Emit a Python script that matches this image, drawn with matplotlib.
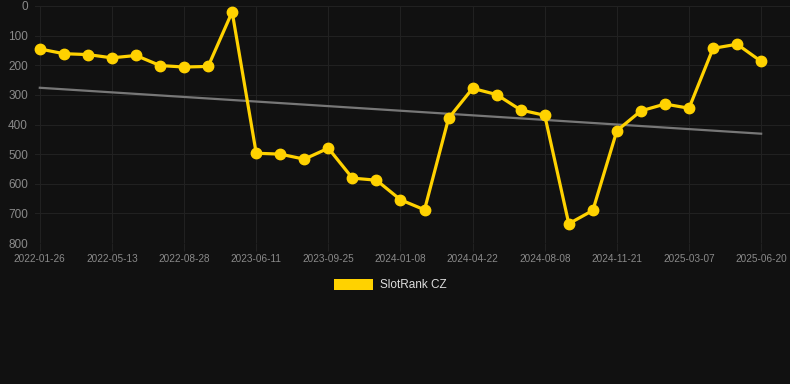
import numpy as np
import matplotlib
matplotlib.use("Agg")
import matplotlib.pyplot as plt
from matplotlib.patches import Patch

# rank values (lower = better, axis inverted)
rank = [145, 161, 164, 175, 167, 201, 206, 204, 20,
        497, 500, 517, 480, 581, 588, 654, 688,
        379, 278, 299, 351, 369, 735, 690, 421,
        354, 331, 345, 143, 129, 187]
tick_labels = ["2022-01-26", "2022-05-13", "2022-08-28", "2023-06-11",
               "2023-09-25", "2024-01-08", "2024-04-22", "2024-08-08",
               "2024-11-21", "2025-03-07", "2025-06-20"]
series_name = "SlotRank CZ"

plt.rcParams['font.family'] = ['Liberation Sans', 'DejaVu Sans']

bg = "#111111"
fig = plt.figure(figsize=(7.9, 3.84), dpi=100, facecolor=bg)
ax = fig.add_axes([35 / 790, 1 - 243 / 384, 755 / 790, 237 / 384])
ax.set_facecolor(bg)

x = np.arange(len(rank))

# linear trend line
coef = np.polyfit(x, rank, 1)
ax.plot(x, np.polyval(coef, x), color="#777777", lw=1.6, zorder=2)

ax.plot(x, rank, color="#FFD200", lw=2.3, marker="o", markersize=7.5,
        zorder=3, clip_on=False)

ax.set_ylim(800, 0)
ax.set_xlim(-0.2, 31.2)
ax.set_yticks(range(0, 801, 100))
ax.set_xticks(x[::3])
ax.set_xticklabels(tick_labels)

ax.grid(True, color="#212121", lw=0.8)
ax.set_axisbelow(True)
for s in ax.spines.values():
    s.set_visible(False)
ax.tick_params(axis="x", colors="#212121", labelcolor="#8a8a8a",
               labelsize=7.2, length=6, pad=2)
ax.tick_params(axis="y", length=0, labelcolor="#8a8a8a", labelsize=8.5, pad=5)

handle = Patch(facecolor="#FFD200", edgecolor="none")
fig.legend([handle], [series_name], loc="center", bbox_to_anchor=(390 / 790, 1 - 285 / 384),
           frameon=False, fontsize=8.5, labelcolor="#dddddd",
           handlelength=3.3, handleheight=1.1, handletextpad=0.6)

fig.savefig("out.png", dpi=100, facecolor=bg)
